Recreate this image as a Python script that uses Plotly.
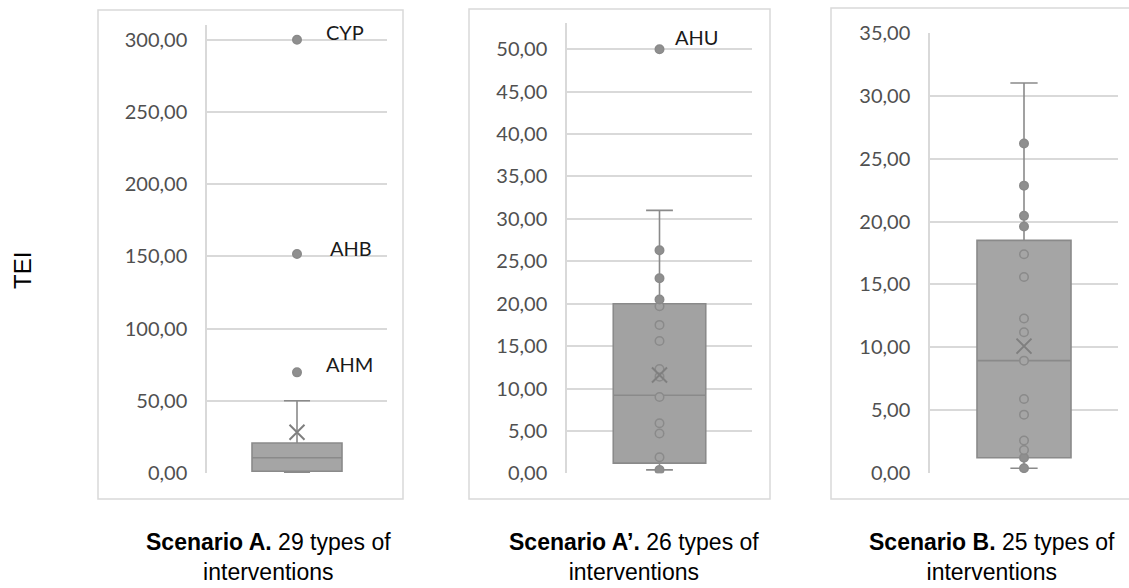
import plotly.graph_objects as go

W, H = 1129, 588

# ---------------- data ----------------
scenarios = ["A", "A'", "B"]
q1 = [1.2, 1.2, 1.24]
median = [10.6, 9.2, 8.95]
q3 = [20.8, 20.0, 18.5]
lower_whisker = [0.4, 0.4, 0.4]
upper_whisker = [50.0, 31.0, 31.0]
mean = [28.2, 11.6, 10.1]

points_A = []
points_A2 = [0.4, 1.9, 4.7, 5.9, 9.0, 11.4, 12.3, 15.6, 17.5, 19.7, 20.5, 23.0, 26.3]
points_B = [0.4, 1.24, 1.85, 2.6, 4.66, 5.9, 8.95, 11.2, 12.3, 15.6, 17.4, 19.6, 20.45, 22.85, 26.2]

outliers_A = [69.7, 151.6, 300.0]
outlier_labels_A = ["AHM", "AHB", "CYP"]
outliers_A2 = [50.0]
outlier_labels_A2 = ["AHU"]
outliers_B = []
outlier_labels_B = []

ticks_A = [0, 50, 100, 150, 200, 250, 300]
ticktext_A = ["0,00", "50,00", "100,00", "150,00", "200,00", "250,00", "300,00"]
ticks_A2 = [0, 5, 10, 15, 20, 25, 30, 35, 40, 45, 50]
ticktext_A2 = ["0,00", "5,00", "10,00", "15,00", "20,00", "25,00", "30,00",
               "35,00", "40,00", "45,00", "50,00"]
ticks_B = [0, 5, 10, 15, 20, 25, 30, 35]
ticktext_B = ["0,00", "5,00", "10,00", "15,00", "20,00", "25,00", "30,00", "35,00"]

captions = [
    "<b>Scenario A.</b> 29 types of<br>interventions",
    "<b>Scenario A’.</b> 26 types of<br>interventions",
    "<b>Scenario B.</b> 25 types of<br>interventions",
]
y_title = "TEI"

# ---------------- layout / style (pixels) ----------------
plot_px = [  # x0, x1, ytop, ybottom of each plot area
    (207, 387, 25, 473),
    (567, 752, 23, 473.3),
    (930, 1118, 32.7, 473.3),
]
y_ranges = [[0, 310.2], [0, 53.1], [0, 35]]
panel_px = [(98, 403, 10, 499), (469, 770, 9, 499), (831, 1132, 8, 499)]
caption_x_px = [268, 634, 992]
label_shifts = {"CYP": (27, 8), "AHB": (31, 6), "AHM": (27, 8), "AHU": (13, 12)}

BOX_FILL = ["#a5a5a5", "#a2a2a2", "#a5a5a5"]
BOX_LINE = "#8a8a8a"
POINT_FILL = "#8f8f8f"
GRID = "#d9d9d9"
TICK_COL = "#505050"

fig = go.Figure()

all_points = [points_A, points_A2, points_B]
all_outliers = [outliers_A, outliers_A2, outliers_B]
all_labels = [outlier_labels_A, outlier_labels_A2, outlier_labels_B]
all_ticks = [ticks_A, ticks_A2, ticks_B]
all_ticktext = [ticktext_A, ticktext_A2, ticktext_B]

for i in range(3):
    xa = "x" if i == 0 else f"x{i+1}"
    ya = "y" if i == 0 else f"y{i+1}"
    fig.add_trace(go.Box(
        x=[0], q1=[q1[i]], median=[median[i]], q3=[q3[i]],
        lowerfence=[lower_whisker[i]], upperfence=[upper_whisker[i]],
        width=1, whiskerwidth=0.29, boxpoints=False,
        fillcolor=BOX_FILL[i], line=dict(color=BOX_LINE, width=1.6),
        xaxis=xa, yaxis=ya, showlegend=False, hoverinfo="skip",
    ))
    pts = all_points[i]
    if pts:
        fills = [BOX_FILL[i] if q1[i] < v < q3[i] else POINT_FILL for v in pts]
        fig.add_trace(go.Scatter(
            x=[0] * len(pts), y=pts, mode="markers",
            marker=dict(size=8.5, color=fills, line=dict(color=BOX_LINE, width=1.5)),
            xaxis=xa, yaxis=ya, showlegend=False, hoverinfo="skip",
        ))
    outs = all_outliers[i]
    if outs:
        fig.add_trace(go.Scatter(
            x=[0] * len(outs), y=outs, mode="markers",
            marker=dict(size=8.5, color=POINT_FILL, line=dict(color=BOX_LINE, width=1.5)),
            xaxis=xa, yaxis=ya, showlegend=False, hoverinfo="skip",
        ))
        for v, lab in zip(outs, all_labels[i]):
            dx, dy = label_shifts[lab]
            fig.add_annotation(x=0, y=v, xref=xa, yref=ya, text=lab, showarrow=False,
                               xanchor="left", yanchor="middle", xshift=dx, yshift=dy,
                               font=dict(family="Lato", size=20, color="#1a1a1a"))
    fig.add_trace(go.Scatter(
        x=[0], y=[mean[i]], mode="markers",
        marker=dict(symbol="x-thin", size=15, line=dict(color="#7f7f7f", width=2)),
        xaxis=xa, yaxis=ya, showlegend=False, hoverinfo="skip",
    ))

    x0, x1, yt, yb = plot_px[i]
    fig.update_layout(**{
        ("xaxis" if i == 0 else f"xaxis{i+1}"): dict(
            domain=[x0 / W, x1 / W], range=[-1, 1], visible=False, anchor=ya,
            automargin=False),
        ("yaxis" if i == 0 else f"yaxis{i+1}"): dict(
            domain=[1 - yb / H, 1 - yt / H], range=y_ranges[i], anchor=xa,
            tickvals=all_ticks[i], ticktext=all_ticktext[i], automargin=False,
            showgrid=True, gridcolor=GRID, gridwidth=1.5, zeroline=False,
            showline=True, linecolor=GRID, linewidth=1.5,
            ticks="outside", ticklen=14, tickcolor="rgba(0,0,0,0)",
            tickfont=dict(family="Lato", size=20, color=TICK_COL)),
    })

    px0, px1, pt, pb = panel_px[i]
    fig.add_shape(type="rect", xref="paper", yref="paper",
                  x0=px0 / W, x1=px1 / W, y0=1 - pb / H, y1=1 - pt / H,
                  line=dict(color=GRID, width=1.5), fillcolor="rgba(0,0,0,0)", layer="below")

    fig.add_annotation(x=caption_x_px[i] / W, y=1 - 527 / H, xref="paper", yref="paper",
                       text=captions[i], showarrow=False, xanchor="center", yanchor="top",
                       align="center",
                       font=dict(family="Liberation Sans, Arial", size=23, color="#000000"))

fig.add_annotation(x=22 / W, y=1 - 271 / H, xref="paper", yref="paper", text=y_title,
                   textangle=-90, showarrow=False, xanchor="center", yanchor="middle",
                   font=dict(family="Liberation Sans, Arial", size=24, color="#000000"))

fig.update_layout(width=W, height=H, margin=dict(l=0, r=0, t=0, b=0, autoexpand=False),
                  paper_bgcolor="white", plot_bgcolor="white", showlegend=False)

fig.write_html("out.html", config={"displayModeBar": False},
               post_script="document.body.style.margin='0';document.body.style.overflow='hidden';")
